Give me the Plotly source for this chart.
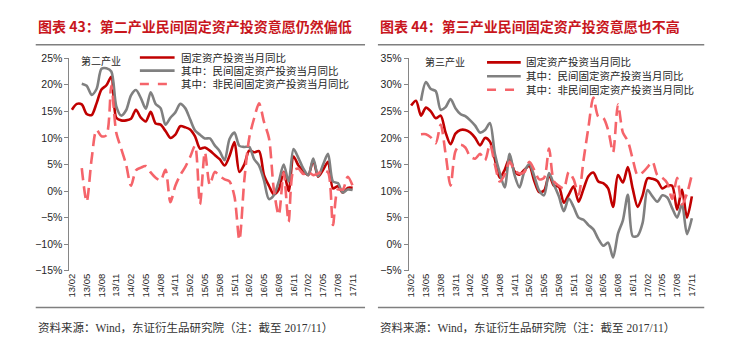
import plotly.graph_objects as go

# ---------------- data ----------------
months = [f"{y}/{m:02d}" for y in range(13, 18) for m in range(1, 13)][1:59]  # 13/02 .. 17/11
tick_labels = months[::3]

# 第二产业
sec_total = [15.3,16.4,16.3,14.5,14.3,16.5,19.1,19.9,21.5,13.8,13.3,13.3,13.6,15.3,13.8,13.1,14.9,12.7,12.5,11.3,
             10.0,10.6,12.2,12.0,11.6,10.3,8.0,8.2,7.6,6.8,6.0,4.8,6.6,9.2,3.6,5.0,7.6,7.3,7.5,3.0,
             1.0,-0.6,0.3,3.6,0.0,6.5,4.8,3.8,3.0,5.8,2.7,4.0,5.5,0.5,0.9,-0.3,0.6,0.6]
sec_private = [None,None,20.2,19.8,18.1,19.2,23.0,23.1,22.5,16.0,14.2,15.2,18.0,19.0,17.5,15.5,18.6,16.4,15.6,12.5,
               13.8,14.8,16.4,15.6,13.5,11.4,10.6,9.9,9.9,8.6,7.5,5.8,9.8,11.0,8.5,8.3,8.3,6.0,4.8,2.0,
               -1.5,-0.8,1.8,5.0,1.8,7.9,6.2,4.2,3.0,6.1,2.8,5.0,7.0,1.8,1.5,-0.3,0.3,0.2]
sec_nonprivate = [None,None,4.3,-2.0,6.0,11.5,10.3,10.5,19.8,11.0,8.0,5.0,1.0,3.9,4.4,4.7,3.5,2.5,2.0,4.0,
                  -2.1,1.0,3.0,4.5,6.4,8.5,-2.5,7.3,1.2,3.6,2.8,2.2,1.8,-1.0,-9.2,2.0,10.0,13.7,16.5,13.0,
                  10.0,0.3,-4.5,3.5,-5.8,3.9,4.2,3.2,3.6,3.0,3.3,3.9,3.5,-6.4,0.3,0.3,2.7,1.0]

# 第三产业
ter_total = [26.1,27.0,24.2,25.7,25.0,23.7,24.2,21.0,18.8,20.8,21.5,21.5,21.0,20.0,18.6,20.0,19.3,16.0,12.5,14.0,
             16.2,13.7,13.1,14.0,14.7,11.9,9.8,10.1,13.0,11.0,10.8,7.8,9.3,10.9,8.0,10.4,12.8,13.5,11.8,11.5,
             10.5,7.0,13.0,11.6,14.5,10.4,7.0,9.2,12.4,12.3,11.9,10.5,11.0,11.0,6.5,10.3,5.0,9.0]
ter_private = [None,None,27.0,30.5,29.2,28.8,25.3,25.8,27.3,25.6,24.5,24.1,23.3,22.3,21.0,21.5,22.8,17.0,13.4,10.7,
               17.0,13.0,10.7,13.7,15.1,12.8,10.1,9.2,13.4,11.2,9.0,6.2,8.6,7.0,5.0,4.6,3.6,2.8,1.0,-0.3,
               0.3,-2.5,2.0,4.5,9.3,1.5,1.6,4.0,10.2,9.0,8.0,9.2,8.8,6.8,5.0,7.5,1.9,4.9]
ter_nonprivate = [None,None,20.7,20.7,20.1,19.0,22.5,17.0,11.0,17.5,18.7,18.2,16.5,16.1,17.0,15.8,18.8,15.0,11.8,13.1,
                  15.5,13.9,13.3,13.6,15.5,14.0,12.2,12.5,18.0,11.8,11.0,10.5,13.6,12.2,9.3,15.8,22.0,27.6,24.0,23.8,
                  21.5,17.3,26.3,21.0,19.4,16.0,13.0,13.5,14.5,15.5,13.0,12.5,11.5,8.5,12.5,7.5,9.5,13.1]

series_names = ["固定资产投资当月同比", "其中：民间固定资产投资当月同比", "其中：非民间固定资产投资当月同比"]
titles = ["图表 43：第二产业民间固定资产投资意愿仍然偏低", "图表 44：第三产业民间固定资产投资意愿也不高"]
panel_labels = ["第二产业", "第三产业"]
source_text = "资料来源：Wind，东证衍生品研究院（注：截至 2017/11）"

# ---------------- style ----------------
W, H = 737, 357
RED, GRAY, PINK = "#C00000", "#808080", "#F5646A"
AXC = "#868686"
TXT = "#262626"
CJK = "Noto Sans CJK SC"
SERIF_MIX = "Liberation Serif, Noto Sans CJK SC"
ARIAL = "Liberation Sans, Arial"

def px(x):
    return x / W

def py(y):
    return 1 - y / H

x_idx = list(range(len(months)))
ydom = [py(274), py(54)]
panels = [
    dict(xd=[px(67), px(355)], yr=[-15, 25], data=(sec_total, sec_private, sec_nonprivate),
         ax="", leg_x=(138, 173, 177), leg_y=(53.3, 66.9, 80.7), lab=(77, 56.5),
         title_x=33, line_x=(33, 365)),
    dict(xd=[px(409), px(697)], yr=[-5, 35], data=(ter_total, ter_private, ter_nonprivate),
         ax="2", leg_x=(488, 522, 525), leg_y=(58.3, 72.7, 86.7), lab=(423, 57.5),
         title_x=378, line_x=(378, 707)),
]

fig = go.Figure()
layout = dict(width=W, height=H, margin=dict(l=0, r=0, t=0, b=0),
              paper_bgcolor="white", plot_bgcolor="white", showlegend=False)
shapes, annotations = [], []

styles = [dict(color=RED, width=2.6), dict(color=GRAY, width=2.6), dict(color=PINK, width=2.6, dash="12px,6px")]

for k, p in enumerate(panels):
    ax = p["ax"]
    xa = "x" + ax
    ya = "y" + ax
    for d, st, nm in zip(p["data"], styles, series_names):
        fig.add_trace(go.Scatter(x=x_idx, y=d, mode="lines", name=nm, xaxis=xa, yaxis=ya,
                                 line=dict(shape="spline", smoothing=0.8, **st),
                                 connectgaps=False, hoverinfo="skip"))
    yr = p["yr"]
    zero_pos = ydom[0] + (0 - yr[0]) / (yr[1] - yr[0]) * (ydom[1] - ydom[0])
    layout["xaxis" + ax] = dict(domain=p["xd"], range=[-0.5, 57.5], anchor=ya,
                                tickvals=x_idx[::3], ticktext=tick_labels, tickangle=-90,
                                tickfont=dict(family=ARIAL, size=9.5, color=TXT),
                                showline=False, ticks="", showgrid=False, zeroline=False)
    layout["yaxis" + ax] = dict(domain=ydom, range=yr, dtick=5, ticksuffix="%", anchor=xa,
                                showline=True, linecolor=AXC, linewidth=1, ticks="outside",
                                ticklen=4, tickcolor=AXC, showgrid=False, zeroline=False,
                                tickfont=dict(family=ARIAL, size=10.5, color=TXT))
    # axis line along zero with tick marks between category groups
    ov = "xaxis" + str(3 + k)
    layout[ov] = dict(overlaying=xa, anchor="free", position=zero_pos, domain=p["xd"],
                      range=[-0.5, 57.5], showline=True, linecolor=AXC, linewidth=1,
                      ticks="inside", ticklen=3, tickcolor=AXC,
                      tickvals=[v - 0.5 for v in x_idx[3::3]], showticklabels=False,
                      showgrid=False, zeroline=False)
    # title
    annotations.append(dict(x=px(p["title_x"]), y=py(21), xref="paper", yref="paper",
                            xanchor="left", yanchor="middle", showarrow=False, text="<b>" + titles[k] + "</b>",
                            font=dict(family=CJK, size=14, color="#C8161D")))
    l0, l1 = p["line_x"]
    shapes.append(dict(type="line", xref="paper", yref="paper", x0=px(l0), x1=px(l1), y0=py(40), y1=py(40),
                       line=dict(color="#7F7F7F", width=1.5)))
    shapes.append(dict(type="line", xref="paper", yref="paper", x0=px(l0), x1=px(l1), y0=py(312), y1=py(312),
                       line=dict(color="#7F7F7F", width=1.5)))
    annotations.append(dict(x=px(p["title_x"]), y=py(333), xref="paper", yref="paper",
                            xanchor="left", yanchor="middle", showarrow=False, text=source_text,
                            font=dict(family=SERIF_MIX, size=11.5, color="#333333")))
    # panel label
    annotations.append(dict(x=px(p["lab"][0]), y=py(p["lab"][1]), xref="paper", yref="paper",
                            xanchor="left", yanchor="middle", showarrow=False, text=panel_labels[k],
                            font=dict(family=SERIF_MIX, size=10, color=TXT)))
    # legend (manual)
    sx0, sx1, tx = p["leg_x"]
    for st, nm, ly in zip(styles, series_names, p["leg_y"]):
        shapes.append(dict(type="line", xref="paper", yref="paper", x0=px(sx0), x1=px(sx1),
                           y0=py(ly), y1=py(ly), line=dict(color=st["color"], width=2.6,
                                                           dash="dash" if "dash" in st else "solid")))
        annotations.append(dict(x=px(tx), y=py(ly), xref="paper", yref="paper", xanchor="left",
                                yanchor="middle", showarrow=False, text=nm,
                                font=dict(family=SERIF_MIX, size=10.5, color=TXT)))

layout["shapes"] = shapes
layout["annotations"] = annotations
fig.update_layout(**layout)
fig.write_html("out.html", config={"displayModeBar": False},
               post_script="document.body.style.margin='0';document.body.style.overflow='hidden';")
